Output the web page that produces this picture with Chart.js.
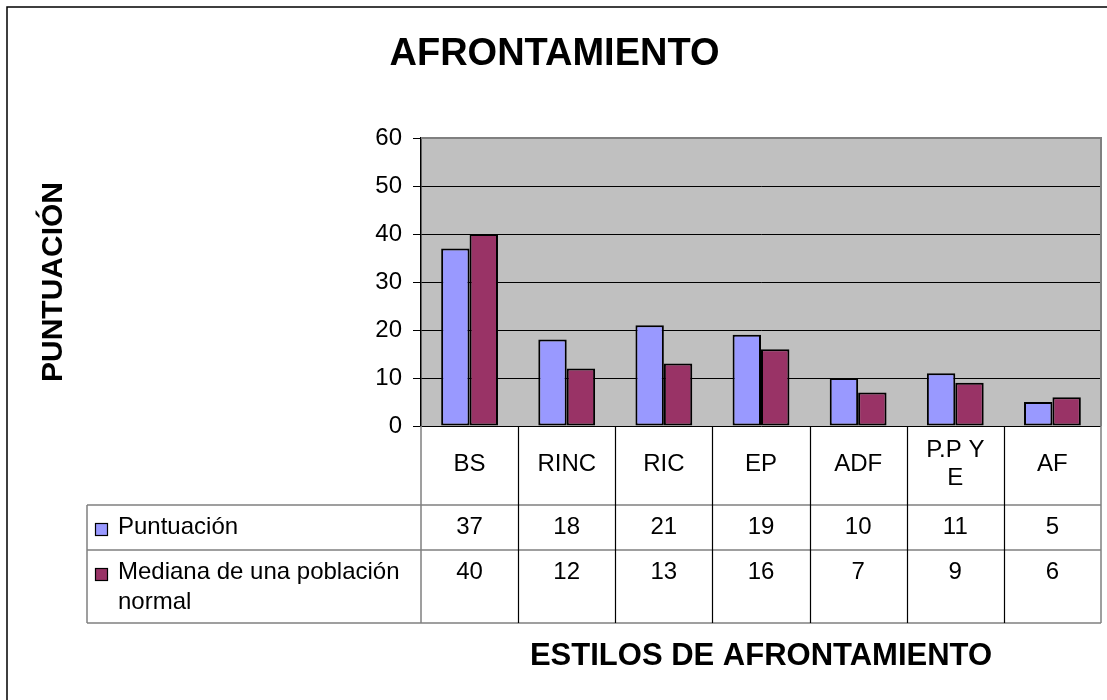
<!DOCTYPE html>
<html>
<head>
<meta charset="utf-8">
<script src="https://cdn.jsdelivr.net/npm/chart.js@4.4.0/dist/chart.umd.min.js"></script>
<style>
html,body{margin:0;padding:0;background:#fff;}
canvas{display:block;}
</style>
</head>
<body>
<canvas id="c" width="1107" height="700"></canvas>
<script>
const categories = ['BS', 'RINC', 'RIC', 'EP', 'ADF', 'P.P Y E', 'AF'];
const puntuacion = [37, 18, 21, 19, 10, 11, 5];
const mediana = [40, 12, 13, 16, 7, 9, 6];
const seriesNames = ['Puntuación', 'Mediana de una población normal'];
const seriesColors = ['#9999FF', '#993366'];
const yMin = 0, yMax = 60, yStep = 10;
const chartTitle = 'AFRONTAMIENTO';
const yTitle = 'PUNTUACIÓN';
const xTitle = 'ESTILOS DE AFRONTAMIENTO';

const FONT = '"Liberation Sans", Arial, sans-serif';
const seriesValues = [puntuacion, mediana];

function wrapText(ctx, text, maxWidth) {
  const words = text.split(' ');
  const lines = [];
  let cur = '';
  for (const w of words) {
    const test = cur ? cur + ' ' + w : w;
    if (cur && ctx.measureText(test).width > maxWidth) {
      lines.push(cur);
      cur = w;
    } else {
      cur = test;
    }
  }
  if (cur) lines.push(cur);
  return lines;
}

const frameAndTable = {
  id: 'frameAndTable',
  beforeDraw(chart) {
    const { ctx, chartArea: a } = chart;
    ctx.save();
    ctx.fillStyle = '#fff';
    ctx.fillRect(0, 0, chart.width, chart.height);
    ctx.strokeStyle = '#000';
    ctx.lineWidth = 1.5;
    ctx.strokeRect(7, 7, chart.width + 20, chart.height + 20);
    ctx.fillStyle = '#C0C0C0';
    ctx.fillRect(a.left, a.top, a.right - a.left, a.bottom - a.top);
    ctx.restore();
  },
  afterDraw(chart) {
    const { ctx, chartArea: a } = chart;
    const xs = chart.scales.x;
    const colW = xs.getPixelForValue(1) - xs.getPixelForValue(0);
    const labelLeft = 87;
    const r0 = a.bottom, r1 = r0 + 79, r2 = r1 + 45, r3 = r2 + 73;
    ctx.save();
    // plot border top/right
    ctx.strokeStyle = '#808080';
    ctx.lineWidth = 2;
    ctx.beginPath();
    ctx.moveTo(a.left, a.top);
    ctx.lineTo(a.right, a.top);
    ctx.lineTo(a.right, a.bottom);
    ctx.stroke();

    // table horizontal lines
    ctx.lineWidth = 1.5;
    ctx.strokeStyle = '#808080';
    ctx.beginPath();
    [r1, r2, r3].forEach(y => { ctx.moveTo(labelLeft, y); ctx.lineTo(a.right, y); });
    ctx.moveTo(labelLeft, r1); ctx.lineTo(labelLeft, r3);
    ctx.moveTo(a.right, r0); ctx.lineTo(a.right, r3);
    ctx.moveTo(a.left, r0); ctx.lineTo(a.left, r3);
    ctx.stroke();
    // column dividers
    ctx.strokeStyle = '#000';
    ctx.lineWidth = 1.2;
    ctx.beginPath();
    for (let i = 1; i < categories.length; i++) {
      const xd = Math.round(xs.getPixelForValue(i) - colW / 2) + 0.5;
      ctx.moveTo(xd, r0); ctx.lineTo(xd, r3);
    }
    ctx.stroke();

    // header labels
    ctx.fillStyle = '#000';
    ctx.font = '24px ' + FONT;
    ctx.textAlign = 'center';
    ctx.textBaseline = 'middle';
    categories.forEach((c, i) => {
      const cx = xs.getPixelForValue(i);
      const lines = wrapText(ctx, c, colW * 0.68);
      const lh = 28;
      const mid = (r0 + r1) / 2 - 1;
      lines.forEach((ln, k) => {
        ctx.fillText(ln, cx, mid + (k - (lines.length - 1) / 2) * lh);
      });
    });

    // value rows
    const rowTops = [r1, r2];
    seriesValues.forEach((vals, s) => {
      const ty = rowTops[s] + 22;
      ctx.textAlign = 'center';
      vals.forEach((v, i) => ctx.fillText(String(v), xs.getPixelForValue(i), ty));
      // legend key
      ctx.fillStyle = seriesColors[s];
      ctx.fillRect(95, ty - 4, 13, 13);
      ctx.strokeStyle = '#000';
      ctx.lineWidth = 1.2;
      ctx.strokeRect(95.5, ty - 3.5, 12, 12);
      ctx.fillStyle = '#000';
      ctx.textAlign = 'left';
      const lines = wrapText(ctx, seriesNames[s], a.left - 118 - 6);
      lines.forEach((ln, k) => ctx.fillText(ln, 118, ty + k * 30));
    });
    ctx.restore();
  }
};

new Chart(document.getElementById('c'), {
  type: 'bar',
  data: {
    labels: categories,
    datasets: seriesNames.map((name, s) => ({
      label: name,
      data: seriesValues[s],
      backgroundColor: seriesColors[s],
      borderColor: '#000',
      borderWidth: 2,
      borderSkipped: false,
      categoryPercentage: 0.585,
      barPercentage: 1
    }))
  },
  options: {
    responsive: false,
    animation: false,
    devicePixelRatio: 1,
    layout: { padding: { left: 8, right: 6, top: 0, bottom: 0 } },
    plugins: {
      legend: { display: false },
      tooltip: { enabled: false },
      title: {
        display: true,
        text: chartTitle,
        color: '#000',
        font: { family: FONT, size: 38, weight: 'bold' },
        padding: { top: 32, bottom: 60.4 }
      }
    },
    scales: {
      x: {
        grid: { display: false },
        border: { display: false },
        ticks: { display: false },
        title: {
          display: true,
          text: xTitle,
          color: '#000',
          font: { family: FONT, size: 31, weight: 'bold' },
          padding: { top: 0, bottom: 25.4 }
        },
        afterFit(s) { s.height = 274; }
      },
      y: {
        min: yMin,
        max: yMax,
        ticks: { stepSize: yStep, color: '#000', font: { family: FONT, size: 24 }, padding: 11 },
        grid: {
          color: c => (c.tick && c.tick.value === yMax ? '#808080' : '#000'),
          lineWidth: 1,
          tickLength: 8,
          tickColor: '#000'
        },
        border: { color: '#000', width: 1.5 },
        title: {
          display: true,
          text: yTitle,
          color: '#000',
          font: { family: FONT, size: 30, weight: 'bold' },
          padding: { top: 28, bottom: 0 }
        },
        afterFit(s) { s.width = 413; }
      }
    }
  },
  plugins: [frameAndTable]
});
</script>
</body>
</html>
